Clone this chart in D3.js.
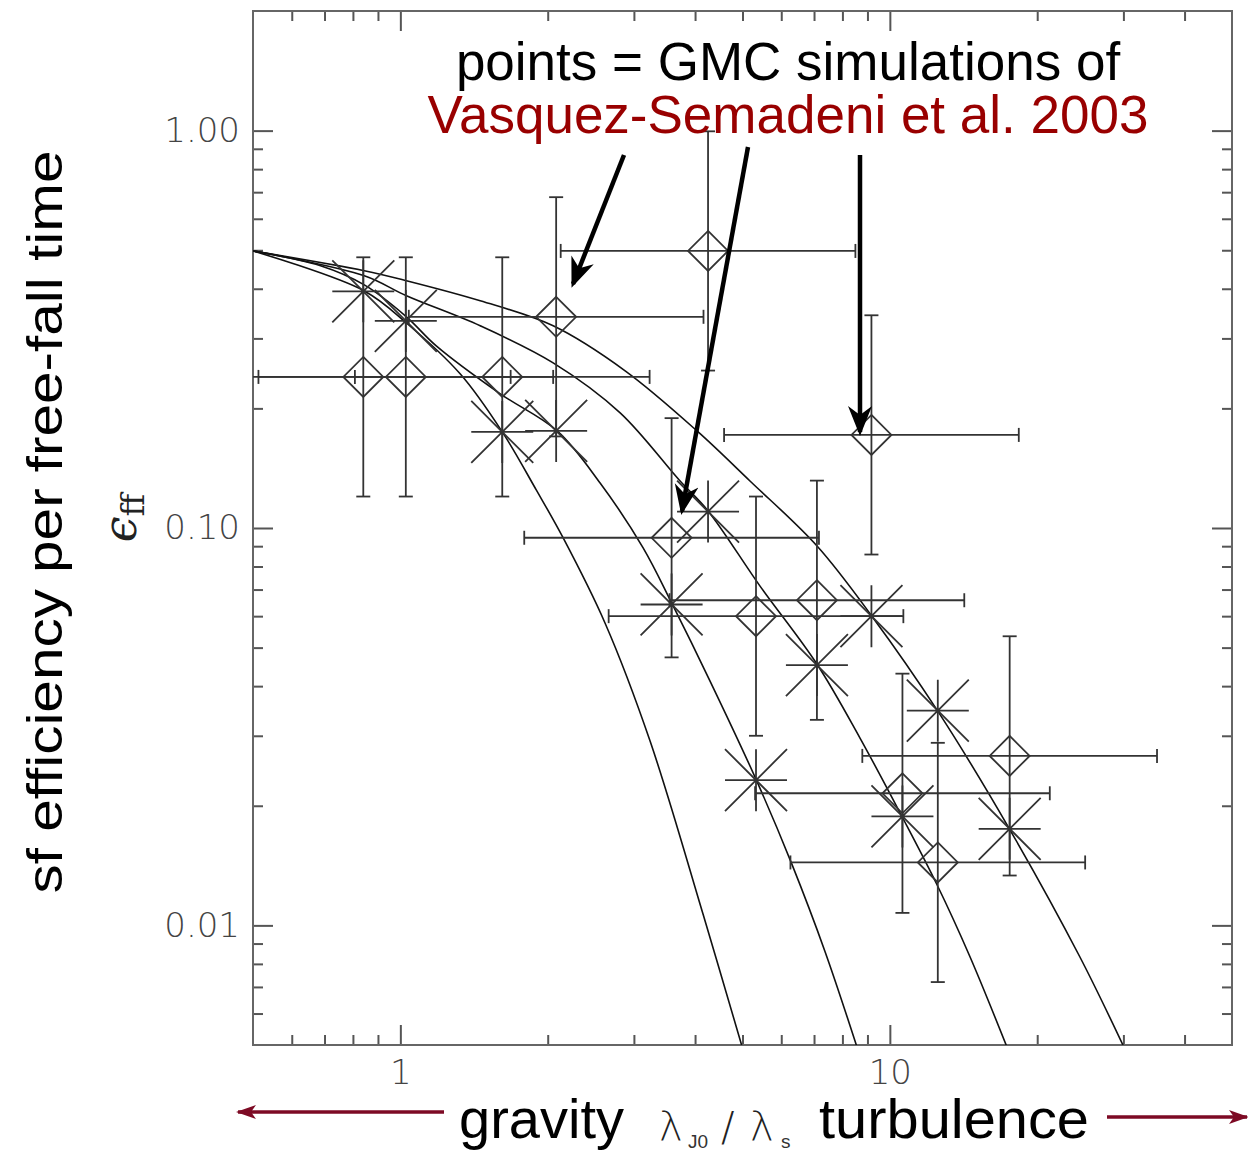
<!DOCTYPE html>
<html>
<head>
<meta charset="utf-8">
<script src="https://cdn.jsdelivr.net/npm/d3@7"></script>
<style>
  html,body{margin:0;padding:0;background:#fff;}
  svg{display:block;}
</style>
</head>
<body>
<svg id="chart" width="1248" height="1155"></svg>
<script>
// ---------------- DATA ----------------
// simulations: lambda_J0/lambda_s
const simX = [0.84, 1.026, 1.615, 2.081, 3.582, 4.252, 5.328, 7.096, 9.17, 10.61, 12.53, 17.57];
// diamond values of eps_ff (with error bars, factor 2 both ways)
const diamondEff = [0.240, 0.240, 0.240, 0.340, 0.0945, 0.498, 0.0600, 0.0658, 0.1715, 0.0215, 0.0144, 0.0267];
// asterisk values of eps_ff
const asteriskEff = [0.394, 0.332, 0.1745, 0.1755, 0.0642, 0.110, 0.0232, 0.0452, 0.0600, 0.0188, 0.0347, 0.0175];
const errFactorX = 2;
const errFactorY = 2;

// model curves
const curve1X = [0.5, 0.844, 1.029, 1.326, 1.615, 1.895, 2.151, 2.620, 3.237, 4.154, 4.989];
const curve1Y = [0.498, 0.395, 0.328, 0.244, 0.1745, 0.1247, 0.0944, 0.0576, 0.0291, 0.01066, 0.004957];
const curve2X = [0.5, 0.687, 0.844, 1.029, 1.184, 1.600, 2.091, 2.559, 3.133, 3.591, 4.292, 5.354, 6.31, 7.37, 8.56];
const curve2Y = [0.498, 0.457, 0.409, 0.340, 0.2873, 0.2176, 0.1755, 0.1298, 0.0891, 0.0644, 0.0412, 0.0230, 0.01424, 0.0086, 0.004957];
const curve3X = [0.5, 0.844, 1.029, 1.456, 2.052, 2.812, 3.728, 4.252, 5.43, 7.10, 8.69, 10.58, 12.47, 14.57, 17.33];
const curve3Y = [0.498, 0.4313, 0.3841, 0.3227, 0.2604, 0.1949, 0.1313, 0.1104, 0.0714, 0.0454, 0.0296, 0.01882, 0.01269, 0.00835, 0.004957];
const curve4X = [0.5, 0.844, 1.029, 1.456, 2.052, 2.879, 4.037, 5.179, 7.10, 9.19, 12.53, 17.57, 24.42, 30.03];
const curve4Y = [0.498, 0.444, 0.419, 0.373, 0.3227, 0.2486, 0.1755, 0.1313, 0.0901, 0.0600, 0.0346, 0.01745, 0.00835, 0.004957];

// axis ticks
const xMajorTicks = [1, 10];
const xMajorLabels = ["1", "10"];
const xMinorTicks = [0.6, 0.7, 0.8, 0.9, 2, 3, 4, 5, 6, 7, 8, 9, 20, 30, 40];
const yMajorTicks = [0.01, 0.1, 1];
const yMajorLabels = ["0.01", "0.10", "1.00"];
const yMinorTicks = [0.006, 0.007, 0.008, 0.009, 0.02, 0.03, 0.04, 0.05, 0.06, 0.07, 0.08, 0.09,
                     0.2, 0.3, 0.4, 0.5, 0.6, 0.7, 0.8, 0.9];

// annotation text
const noteLine1 = "points = GMC simulations of";
const noteLine2 = "Vasquez-Semadeni et al. 2003";
const yTitle = "sf efficiency per free-fall time";

// ---------------- DRAWING ----------------
const svg = d3.select("#chart");
const L = 253, R = 1232, T = 11, B = 1045;
const x = d3.scaleLog().domain([0.5, 50]).range([L, R]);
const y = d3.scaleLog().domain([0.005, 2]).range([B, T]);

const defs = svg.append("defs");
defs.append("clipPath").attr("id", "plotclip")
  .append("rect").attr("x", L).attr("y", T).attr("width", R - L).attr("height", B - T);

defs.append("marker").attr("id", "blackhead")
  .attr("viewBox", "0 0 30 30").attr("refX", 26).attr("refY", 15)
  .attr("markerWidth", 30).attr("markerHeight", 30)
  .attr("markerUnits", "userSpaceOnUse").attr("orient", "auto")
  .append("path").attr("d", "M0,3 L30,15 L0,27 L9,15 Z").attr("fill", "#000");

defs.append("marker").attr("id", "redhead")
  .attr("viewBox", "0 0 20 20").attr("refX", 18).attr("refY", 10)
  .attr("markerWidth", 20).attr("markerHeight", 20)
  .attr("markerUnits", "userSpaceOnUse").attr("orient", "auto")
  .append("path").attr("d", "M0,3 L20,10 L0,17 L5,10 Z").attr("fill", "#7d0a24");

const axisColor = "#555";
const tickFont = "'DejaVu Sans', sans-serif";

function styleAxis(g) {
  g.select(".domain").remove();
  g.selectAll(".tick line").attr("stroke", axisColor).attr("stroke-width", 2);
  g.selectAll(".tick text").attr("fill", "#444")
    .style("font-family", tickFont).style("font-weight", "200").style("font-size", "34px");
}

// bottom axis
svg.append("g").attr("transform", `translate(0,${B})`)
  .call(d3.axisBottom(x).tickValues(xMajorTicks).tickSize(-20).tickPadding(15)
    .tickFormat((d, i) => xMajorLabels[i]))
  .call(styleAxis);
svg.append("g").attr("transform", `translate(0,${B})`)
  .call(d3.axisBottom(x).tickValues(xMinorTicks).tickSize(-10).tickFormat(""))
  .call(styleAxis);
// top axis
svg.append("g").attr("transform", `translate(0,${T})`)
  .call(d3.axisTop(x).tickValues(xMajorTicks).tickSize(-20).tickFormat(""))
  .call(styleAxis);
svg.append("g").attr("transform", `translate(0,${T})`)
  .call(d3.axisTop(x).tickValues(xMinorTicks).tickSize(-10).tickFormat(""))
  .call(styleAxis);
// left axis
svg.append("g").attr("transform", `translate(${L},0)`)
  .call(d3.axisLeft(y).tickValues(yMajorTicks).tickSize(-20).tickPadding(13)
    .tickFormat((d, i) => yMajorLabels[i]))
  .call(styleAxis);
svg.append("g").attr("transform", `translate(${L},0)`)
  .call(d3.axisLeft(y).tickValues(yMinorTicks).tickSize(-10).tickFormat(""))
  .call(styleAxis);
// right axis
svg.append("g").attr("transform", `translate(${R},0)`)
  .call(d3.axisRight(y).tickValues(yMajorTicks).tickSize(-20).tickFormat(""))
  .call(styleAxis);
svg.append("g").attr("transform", `translate(${R},0)`)
  .call(d3.axisRight(y).tickValues(yMinorTicks).tickSize(-10).tickFormat(""))
  .call(styleAxis);

// frame
svg.append("rect").attr("x", L).attr("y", T).attr("width", R - L).attr("height", B - T)
  .attr("fill", "none").attr("stroke", "#666").attr("stroke-width", 2);

const plot = svg.append("g").attr("clip-path", "url(#plotclip)");

// model curves
const line = d3.line().x(d => x(d[0])).y(d => y(d[1])).curve(d3.curveCatmullRom.alpha(0.5));
[[curve1X, curve1Y], [curve2X, curve2Y], [curve3X, curve3Y], [curve4X, curve4Y]].forEach(([cx, cy]) => {
  plot.append("path").datum(cx.map((v, i) => [v, cy[i]]))
    .attr("d", line).attr("fill", "none").attr("stroke", "#111").attr("stroke-width", 1.6);
});

const markColor = "#333";
const cap = 7;
const sims = simX.map((v, i) => ({ x: v, d: diamondEff[i], a: asteriskEff[i] }));

// error bars on diamonds
const eb = plot.append("g").attr("stroke", markColor).attr("stroke-width", 1.8).attr("fill", "none");
sims.forEach(s => {
  const cx = x(s.x), cy = y(s.d);
  const x0 = x(s.x / errFactorX), x1 = x(s.x * errFactorX);
  const y0 = y(s.d / errFactorY), y1 = y(s.d * errFactorY);
  eb.append("line").attr("x1", x0).attr("x2", x1).attr("y1", cy).attr("y2", cy);
  eb.append("line").attr("x1", x0).attr("x2", x0).attr("y1", cy - cap).attr("y2", cy + cap);
  eb.append("line").attr("x1", x1).attr("x2", x1).attr("y1", cy - cap).attr("y2", cy + cap);
  eb.append("line").attr("x1", cx).attr("x2", cx).attr("y1", y0).attr("y2", y1);
  eb.append("line").attr("x1", cx - cap).attr("x2", cx + cap).attr("y1", y0).attr("y2", y0);
  eb.append("line").attr("x1", cx - cap).attr("x2", cx + cap).attr("y1", y1).attr("y2", y1);
});

// diamonds
plot.append("g").selectAll("path").data(sims).join("path")
  .attr("transform", s => `translate(${x(s.x)},${y(s.d)})`)
  .attr("d", "M0,-20 L20,0 L0,20 L-20,0 Z")
  .attr("fill", "none").attr("stroke", markColor).attr("stroke-width", 1.8);

// asterisks
const r = 31;
plot.append("g").selectAll("path").data(sims).join("path")
  .attr("transform", s => `translate(${x(s.x)},${y(s.a)})`)
  .attr("d", `M${-r},0 L${r},0 M0,${-r} L0,${r} M${-r},${-r} L${r},${r} M${-r},${r} L${r},${-r}`)
  .attr("fill", "none").attr("stroke", markColor).attr("stroke-width", 1.8);

// annotation text
const sans = "'Liberation Sans', Arial, sans-serif";
svg.append("text").attr("x", 788).attr("y", 80).attr("text-anchor", "middle")
  .style("font-family", sans).style("font-size", "53px").attr("fill", "#000").text(noteLine1);
svg.append("text").attr("x", 788).attr("y", 133).attr("text-anchor", "middle")
  .style("font-family", sans).style("font-size", "53px").attr("fill", "#990000").text(noteLine2);

// annotation arrows
const arrows = [
  [[624, 155], [573, 284]],
  [[748, 147], [682, 511]],
  [[860, 155], [860, 432]]
];
arrows.forEach(a => {
  svg.append("line").attr("x1", a[0][0]).attr("y1", a[0][1]).attr("x2", a[1][0]).attr("y2", a[1][1])
    .attr("stroke", "#000").attr("stroke-width", 4.5).attr("marker-end", "url(#blackhead)");
});

// bottom labels
svg.append("text").attr("x", 459).attr("y", 1138)
  .style("font-family", sans).style("font-size", "56px").attr("fill", "#000").text("gravity");
svg.append("text").attr("x", 819).attr("y", 1138).attr("textLength", 270).attr("lengthAdjust", "spacingAndGlyphs")
  .style("font-family", sans).style("font-size", "56px").attr("fill", "#000").text("turbulence");

const lam = svg.append("text").attr("y", 1141)
  .style("font-family", "'DejaVu Sans', sans-serif").style("font-weight", "200").attr("fill", "#222");
lam.append("tspan").attr("x", 659).style("font-size", "40px").text("λ");
lam.append("tspan").attr("x", 688).attr("y", 1148).style("font-size", "19px").style("font-weight", "normal")
  .style("font-family", sans).attr("fill", "#333").text("J0");
lam.append("tspan").attr("x", 721).attr("y", 1141).style("font-size", "40px").text("/");
lam.append("tspan").attr("x", 750).style("font-size", "40px").text("λ");
lam.append("tspan").attr("x", 781).attr("y", 1148).style("font-size", "19px").style("font-weight", "normal")
  .style("font-family", sans).attr("fill", "#333").text("s");

// red direction arrows
svg.append("line").attr("x1", 444).attr("y1", 1112).attr("x2", 238).attr("y2", 1112)
  .attr("stroke", "#7d0a24").attr("stroke-width", 3.5).attr("marker-end", "url(#redhead)");
svg.append("line").attr("x1", 1107).attr("y1", 1117).attr("x2", 1247).attr("y2", 1117)
  .attr("stroke", "#7d0a24").attr("stroke-width", 3.5).attr("marker-end", "url(#redhead)");

// y title
svg.append("text").attr("transform", "translate(62,522) rotate(-90)").attr("text-anchor", "middle")
  .attr("textLength", 743).attr("lengthAdjust", "spacingAndGlyphs")
  .style("font-family", sans).style("font-size", "50px").attr("fill", "#000").text(yTitle);

// epsilon_ff
const eps = svg.append("text").attr("transform", "translate(136,518) rotate(-90)").attr("text-anchor", "middle")
  .style("font-family", "'DejaVu Serif', 'Liberation Serif', serif").attr("fill", "#222");
eps.append("tspan").style("font-size", "46px").style("font-style", "italic").text("ϵ");
eps.append("tspan").attr("dy", 8).style("font-size", "32px").text("ff");
</script>
</body>
</html>
